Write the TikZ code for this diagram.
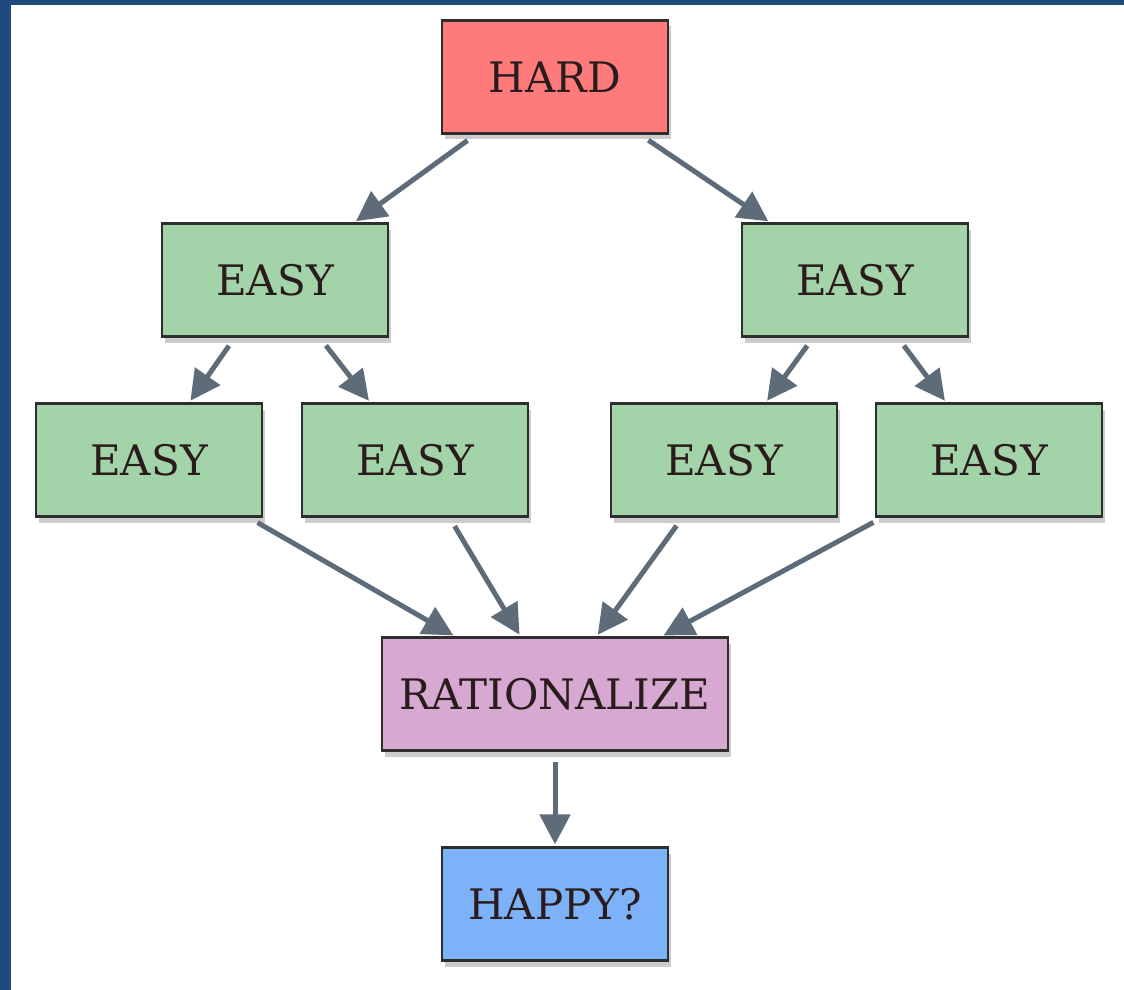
\documentclass[tikz,border=0pt]{standalone}
\usepackage{fontspec}
\setmainfont{DejaVu Serif}
\usetikzlibrary{arrows.meta,shadows}
\definecolor{frameblue}{HTML}{1F4A7E}
\definecolor{hardred}{HTML}{FF7B7B}
\definecolor{easygreen}{HTML}{A3D3A8}
\definecolor{ratpurple}{HTML}{D6A8D2}
\definecolor{happyblue}{HTML}{7EB2F8}
\definecolor{arrowgray}{HTML}{5E6B78}
\definecolor{edgedark}{HTML}{2E2E2E}
\definecolor{textdark}{HTML}{2A1C1C}
\tikzset{
  box/.style={draw=edgedark, line width=1.1pt, minimum width=113pt, minimum height=56.5pt,
    inner sep=0pt, font=\fontsize{21}{25}\selectfont, text=textdark,
    drop shadow={opacity=0.4, shadow xshift=1.5pt, shadow yshift=-3pt}},
  conn/.style={draw=arrowgray, line width=2.5pt, -{Triangle[length=15pt,width=15pt]},
    shorten <=5pt, shorten >=1pt}
}
\begin{document}
\begin{tikzpicture}[x=0.5pt,y=-0.5pt]
\useasboundingbox (0,0) rectangle (1124,990);
\fill[white] (0,0) rectangle (1124,990);
\fill[frameblue] (0,0) rectangle (11,990);
\fill[frameblue] (0,0) rectangle (1124,5);
\node[box, fill=hardred] (hard) at (555,77) {HARD};
\node[box, fill=easygreen] (e1) at (275,280) {EASY};
\node[box, fill=easygreen] (e2) at (855,280) {EASY};
\node[box, fill=easygreen] (f1) at (149,460) {EASY};
\node[box, fill=easygreen] (f2) at (415,460) {EASY};
\node[box, fill=easygreen] (f3) at (724,460) {EASY};
\node[box, fill=easygreen] (f4) at (989,460) {EASY};
\node[box, fill=ratpurple, minimum width=173pt] (rat) at (555,694) {RATIONALIZE};
\node[box, fill=happyblue] (happy) at (555,904) {HAPPY?};
\draw[conn] (hard) -- (e1);
\draw[conn] (hard) -- (e2);
\draw[conn] (e1) -- (f1);
\draw[conn] (e1) -- (f2);
\draw[conn] (e2) -- (f3);
\draw[conn] (e2) -- (f4);
\draw[conn] (f1) -- (rat);
\draw[conn] (f2) -- (rat);
\draw[conn] (f3) -- (rat);
\draw[conn] (f4) -- (rat);
\draw[conn] (rat) -- (happy);
\end{tikzpicture}
\end{document}
